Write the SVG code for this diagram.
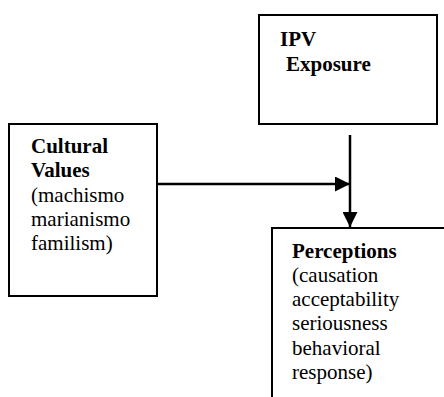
<svg xmlns="http://www.w3.org/2000/svg" width="444" height="397" viewBox="0 0 444 397">
<defs>
<style>
.box{fill:#fff;stroke:#000;stroke-width:2}
.t{font-family:"Liberation Serif","Times New Roman",serif;font-size:21px;fill:#000}
.b{font-weight:bold}
.c{stroke:#000;stroke-width:2.5;fill:none}
</style>
<marker id="ah" viewBox="0 0 10 10" refX="10" refY="5" markerWidth="6" markerHeight="6" markerUnits="strokeWidth" orient="auto">
<path d="M0,0 L10,5 L0,10 z" fill="#000"/>
</marker>
</defs>
<rect width="444" height="397" fill="#fff"/>
<g id="ipv">
<rect class="box" x="259" y="15" width="178" height="109"/>
<text class="t b" x="280" y="46">IPV</text>
<text class="t b" x="286" y="71">Exposure</text>
</g>
<g id="cultural">
<rect class="box" x="9" y="124" width="148" height="172"/>
<text class="t b" x="31" y="153">Cultural</text>
<text class="t b" x="31" y="177">Values</text>
<text class="t" x="31" y="202">(machismo</text>
<text class="t" x="31" y="226">marianismo</text>
<text class="t" x="31" y="250">familism)</text>
</g>
<g id="perceptions">
<path class="box" d="M272,398 L272,228 L446,228"/>
<text class="t b" x="292" y="258">Perceptions</text>
<text class="t" x="292" y="282">(causation</text>
<text class="t" x="292" y="306">acceptability</text>
<text class="t" x="292" y="330">seriousness</text>
<text class="t" x="292" y="355">behavioral</text>
<text class="t" x="292" y="379">response)</text>
</g>
<g id="connectors">
<line class="c" x1="157" y1="184" x2="350" y2="184" marker-end="url(#ah)"/>
<line class="c" x1="350" y1="135" x2="350" y2="227" marker-end="url(#ah)"/>
</g>
</svg>
